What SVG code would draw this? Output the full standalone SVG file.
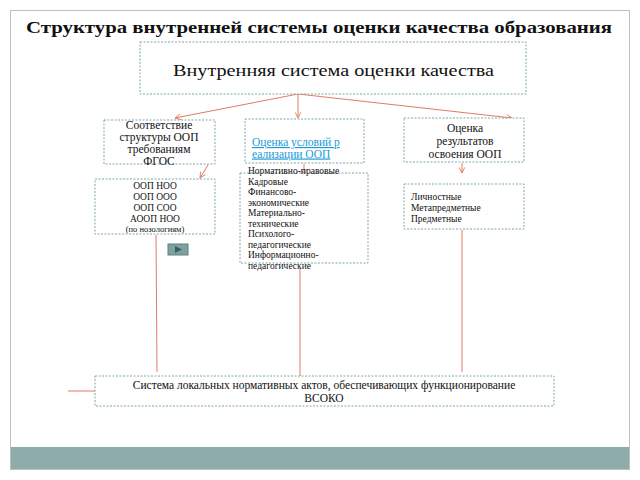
<svg xmlns="http://www.w3.org/2000/svg" width="640" height="480" viewBox="0 0 640 480">
<defs>
<marker id="ar" viewBox="0 0 10 10" refX="9" refY="5" markerWidth="7" markerHeight="7" orient="auto"><path d="M1,1 L9,5 L1,9" fill="none" stroke="#e07a60" stroke-width="1.3"/></marker>
<style>
.bx{fill:#fff;stroke:#7fa8a8;stroke-width:1;stroke-dasharray:2 1.5}
.ln{stroke:#e07a60;stroke-width:1;fill:none}
text{font-family:"Liberation Serif",serif;fill:#111}
.s{font-size:9.5px}
.m{font-size:11.5px}
</style>
</defs>
<rect x="0" y="0" width="640" height="480" fill="#fff"/>
<rect x="10.5" y="10.5" width="619" height="459" fill="#fff" stroke="#b8c4c4"/>
<rect x="11" y="447" width="618" height="22" fill="#8eacac"/>
<text x="26" y="33" font-size="17.5" font-weight="bold" textLength="586" lengthAdjust="spacingAndGlyphs">Структура внутренней системы оценки качества образования</text>
<g id="connectors">
<line class="ln" x1="298" y1="94" x2="175" y2="118" marker-end="url(#ar)"/>
<line class="ln" x1="298" y1="94" x2="298" y2="118" marker-end="url(#ar)"/>
<line class="ln" x1="298" y1="94" x2="512" y2="118" marker-end="url(#ar)"/>
<line class="ln" x1="208" y1="165" x2="200" y2="178" marker-end="url(#ar)"/>
<line class="ln" x1="304" y1="164" x2="304" y2="175" marker-end="url(#ar)"/>
<line class="ln" x1="462" y1="163" x2="462" y2="173" marker-end="url(#ar)"/>
<line class="ln" x1="156" y1="235" x2="157" y2="372"/>
<line class="ln" x1="300" y1="268" x2="300" y2="376"/>
<line class="ln" x1="462" y1="230" x2="462" y2="372"/>
<line class="ln" x1="68" y1="391" x2="95" y2="391"/>
</g>
<g id="main"><rect class="bx" x="140" y="42" width="386" height="52"/><text x="173" y="76" font-size="16.5" textLength="321" lengthAdjust="spacingAndGlyphs">Внутренняя система оценки качества</text></g>
<g id="n1"><rect class="bx" x="104" y="120" width="111" height="44"/><text class="m" text-anchor="middle"><tspan x="159" y="129">Соответствие</tspan><tspan x="159" y="141">структуры ООП</tspan><tspan x="159" y="153">требованиям</tspan><tspan x="159" y="165">ФГОС</tspan></text></g>
<g id="n2"><rect class="bx" x="245" y="119" width="119" height="44"/><text font-size="11.5" style="fill:#1a9ad6" text-decoration="underline"><tspan x="252" y="146">Оценка условий р</tspan><tspan x="252" y="157.5">еализации ООП</tspan></text></g>
<g id="n3"><rect class="bx" x="404" y="118" width="120" height="44"/><text class="m" text-anchor="middle"><tspan x="465" y="132">Оценка</tspan><tspan x="465" y="145">результатов</tspan><tspan x="465" y="158">освоения ООП</tspan></text></g>
<g id="n4"><rect class="bx" x="95" y="179" width="120" height="55"/><text class="s" text-anchor="middle"><tspan x="155" y="189">ООП НОО</tspan><tspan x="155" y="200">ООП ООО</tspan><tspan x="155" y="211">ООП СОО</tspan><tspan x="155" y="222">АООП НОО</tspan><tspan x="155" y="232" font-size="8.5">(по нозологиям)</tspan></text></g>
<g id="n5"><rect class="bx" x="240" y="173" width="128" height="90"/><text class="s"><tspan x="248" y="174">Нормативно-правовые</tspan><tspan x="248" y="184.5">Кадровые</tspan><tspan x="248" y="195">Финансово-</tspan><tspan x="248" y="205.5">экономические</tspan><tspan x="248" y="216">Материально-</tspan><tspan x="248" y="226.5">технические</tspan><tspan x="248" y="237">Психолого-</tspan><tspan x="248" y="247.5">педагогические</tspan><tspan x="248" y="258">Информационно-</tspan><tspan x="248" y="268.5">педагогические</tspan></text></g>
<g id="n6"><rect class="bx" x="404" y="184" width="120" height="45"/><text class="s"><tspan x="411" y="200">Личностные</tspan><tspan x="411" y="211">Метапредметные</tspan><tspan x="411" y="222">Предметные</tspan></text></g>
<g id="btn"><rect x="168" y="244" width="20" height="11" fill="#7fa0a0" stroke="#5d8080"/><path d="M175,246 L182,249.5 L175,253 Z" fill="#3d5e5e"/></g>
<g id="n7"><rect class="bx" x="95" y="376" width="459" height="30"/><text class="m" text-anchor="middle"><tspan x="324" y="389">Система локальных нормативных актов, обеспечивающих функционирование</tspan><tspan x="324" y="402">ВСОКО</tspan></text></g>
</svg>
